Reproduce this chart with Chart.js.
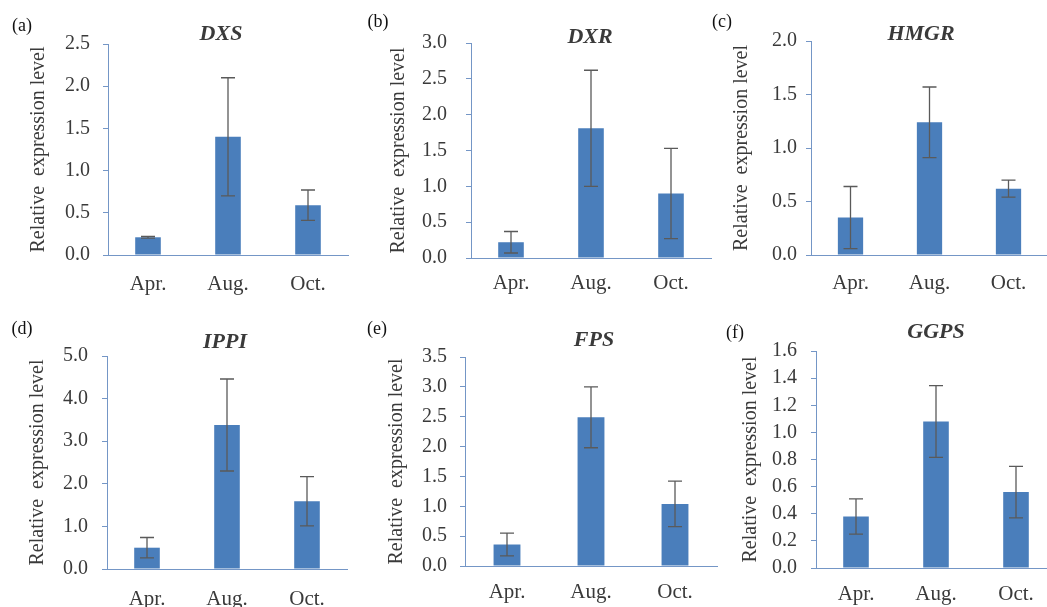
<!DOCTYPE html>
<html>
<head>
<meta charset="utf-8">
<title>Relative expression of MEP/MVA pathway genes</title>
<script src="https://cdn.jsdelivr.net/npm/chart.js@4.4.1/dist/chart.umd.min.js"></script>
<style>
  html, body { margin: 0; padding: 0; background: #fff; }
  #wrap { position: relative; width: 1047px; height: 607px; overflow: hidden; background: #fff; }
  #wrap canvas { position: absolute; }
</style>
</head>
<body>
<div id="wrap"></div>
<script>
// data
const months = ['Apr.', 'Aug.', 'Oct.'];
const genes = ['DXS', 'DXR', 'HMGR', 'IPPI', 'FPS', 'GGPS'];
const panelLetters = ['(a)', '(b)', '(c)', '(d)', '(e)', '(f)'];

const dxsMean  = [0.21, 1.40, 0.59];
const dxsErr   = [0.01, 0.70, 0.18];
const dxrMean  = [0.22, 1.81, 0.90];
const dxrErr   = [0.15, 0.81, 0.63];
const hmgrMean = [0.35, 1.24, 0.62];
const hmgrErr  = [0.29, 0.33, 0.08];
const ippiMean = [0.50, 3.38, 1.59];
const ippiErr  = [0.24, 1.08, 0.58];
const fpsMean  = [0.36, 2.49, 1.04];
const fpsErr   = [0.19, 0.51, 0.38];
const ggpsMean = [0.38, 1.08, 0.56];
const ggpsErr  = [0.13, 0.265, 0.19];

const yMax  = [2.5, 3.0, 2.0, 5.0, 3.5, 1.6];
const yStep = [0.5, 0.5, 0.5, 1.0, 0.5, 0.2];

const means = [dxsMean, dxrMean, hmgrMean, ippiMean, fpsMean, ggpsMean];
const errs  = [dxsErr, dxrErr, hmgrErr, ippiErr, fpsErr, ggpsErr];

// page layout of each panel (canvas box + plot area, page pixels)
const layout = [
  { box: [0, 0, 350, 303],   area: [108, 44, 348, 255],  title: [221, 34],  letter: [22, 26],  yTitleX: 39,  tickPad: 13, xGap: 30 },
  { box: [350, 0, 362, 303], area: [471, 43, 711, 258],  title: [590, 37],  letter: [378, 22], yTitleX: 399, tickPad: 19, xGap: 26 },
  { box: [700, 0, 350, 303], area: [811, 41, 1048, 255], title: [921, 34],  letter: [722, 22], yTitleX: 742, tickPad: 9,  xGap: 29 },
  { box: [0, 303, 350, 304], area: [107, 356, 347, 569], title: [225, 342], letter: [22, 329], yTitleX: 38,  tickPad: 14, xGap: 31 },
  { box: [350, 303, 370, 304], area: [465, 357, 717, 566], title: [594, 340], letter: [377, 329], yTitleX: 397, tickPad: 13, xGap: 27 },
  { box: [700, 303, 360, 304], area: [816, 351, 1056, 568], title: [936, 332], letter: [735, 333], yTitleX: 751, tickPad: 14, xGap: 27 }
];

const SERIF = "'Liberation Serif', 'Times New Roman', serif";
const BAR_COLOR = '#4a7ebb';
const AXIS_COLOR = '#7496c6';
const TEXT_COLOR = '#3a3a3a';

// whiskers from the dataset values
const errorBars = {
  id: 'errorBars',
  afterDatasetsDraw(chart, args, opts) {
    const ctx = chart.ctx;
    const y = chart.scales.y;
    const meta = chart.getDatasetMeta(0);
    const vals = chart.data.datasets[0].data;
    ctx.save();
    ctx.strokeStyle = '#5a5a5a';
    ctx.lineWidth = 1.3;
    meta.data.forEach((bar, i) => {
      const hi = y.getPixelForValue(vals[i] + opts.errors[i]);
      const lo = y.getPixelForValue(vals[i] - opts.errors[i]);
      ctx.beginPath();
      ctx.moveTo(bar.x, hi); ctx.lineTo(bar.x, lo);
      ctx.moveTo(bar.x - 7, hi); ctx.lineTo(bar.x + 7, hi);
      ctx.moveTo(bar.x - 7, lo); ctx.lineTo(bar.x + 7, lo);
      ctx.stroke();
    });
    ctx.restore();
  }
};

// panel letter and italic gene name
const panelText = {
  id: 'panelText',
  afterDraw(chart, args, opts) {
    const ctx = chart.ctx;
    ctx.save();
    ctx.textAlign = 'center';
    ctx.textBaseline = 'middle';
    ctx.fillStyle = '#111';
    ctx.font = '18px ' + SERIF;
    ctx.fillText(opts.letter, opts.letterPos[0], opts.letterPos[1]);
    ctx.fillStyle = TEXT_COLOR;
    ctx.font = 'italic bold 22px ' + SERIF;
    ctx.fillText(opts.gene, opts.titlePos[0], opts.titlePos[1]);
    ctx.restore();
  }
};

const wrap = document.getElementById('wrap');

genes.forEach((gene, k) => {
  const L = layout[k];
  const [bx, by, bw, bh] = L.box;
  const [al, at, ar, ab] = L.area;

  const canvas = document.createElement('canvas');
  canvas.width = bw;
  canvas.height = bh;
  canvas.style.left = bx + 'px';
  canvas.style.top = by + 'px';
  wrap.appendChild(canvas);

  new Chart(canvas, {
    type: 'bar',
    data: {
      labels: months,
      datasets: [{
        data: means[k],
        backgroundColor: BAR_COLOR,
        borderWidth: 0,
        barPercentage: 0.32,
        categoryPercentage: 1
      }]
    },
    plugins: [errorBars, panelText],
    options: {
      responsive: false,
      animation: false,
      devicePixelRatio: 1,
      layout: {
        padding: { left: 0, top: at - by, right: bx + bw - ar, bottom: 0 }
      },
      plugins: {
        legend: { display: false },
        tooltip: { enabled: false },
        errorBars: { errors: errs[k] },
        panelText: {
          letter: panelLetters[k],
          gene: gene,
          letterPos: [L.letter[0] - bx, L.letter[1] - by],
          titlePos: [L.title[0] - bx, L.title[1] - by]
        }
      },
      scales: {
        x: {
          grid: { display: false, drawTicks: false },
          border: { display: true, color: AXIS_COLOR, width: 1 },
          ticks: {
            color: TEXT_COLOR,
            padding: L.xGap - 13,
            font: { family: SERIF, size: 21 },
            maxRotation: 0
          },
          afterFit: (s) => { s.height = by + bh - ab; }
        },
        y: {
          min: 0,
          max: yMax[k],
          grid: {
            display: true,
            drawOnChartArea: false,
            drawTicks: true,
            tickLength: 5,
            color: AXIS_COLOR
          },
          border: { display: true, color: AXIS_COLOR, width: 1 },
          ticks: {
            stepSize: yStep[k],
            color: TEXT_COLOR,
            padding: L.tickPad,
            font: { family: SERIF, size: 20 },
            callback: (v) => Number(v).toFixed(1)
          },
          title: {
            display: true,
            text: 'Relative  expression level',
            color: TEXT_COLOR,
            font: { family: SERIF, size: 20 },
            padding: { top: L.yTitleX - bx - 12, bottom: 0 }
          },
          afterFit: (s) => { s.width = al - bx; }
        }
      }
    }
  });
});
</script>
</body>
</html>
